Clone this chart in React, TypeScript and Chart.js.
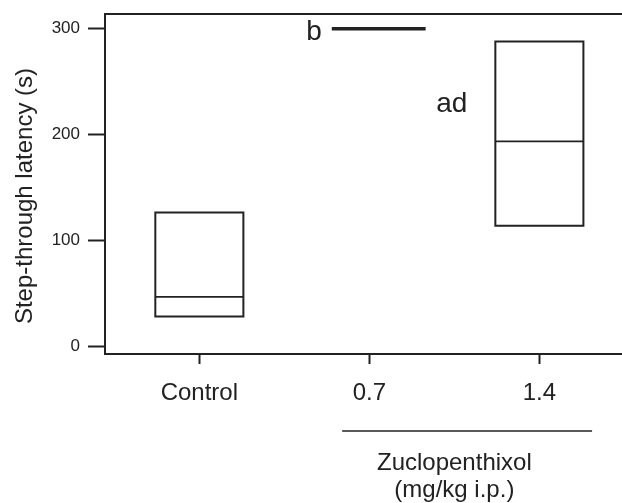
import { useEffect, useRef } from "react";
import { Chart, registerables } from "chart.js";

Chart.register(...registerables);

// ---- data ----
const categories = ["Control", "0.7", "1.4"];
const boxMin = [28.6, 300, 114];
const boxMedian = [47, 300, 193.7];
const boxMax = [126.7, 300, 288];
const yTicks = [0, 100, 200, 300];
const groupLetters = ["", "b", "ad"];
const yTitle = "Step-through latency (s)";
const bracketTitle = ["Zuclopenthixol", "(mg/kg i.p.)"];

// ---- style ----
const INK = "#222222";
const FONT = '"Liberation Sans", Arial, Helvetica, sans-serif';
const BOX_HALF = 0.259; // in category units
const FLAT_HALF = 0.276;
const FLAT_OFFSET = 0.055;
const X_MIN = -0.555;
const X_MAX = 2.486;
const Y_MIN = -6.9;
const Y_MAX = 313.9;

const annotationPlugin = {
  id: "boxAnnotations",
  afterDraw(chart: any) {
    const { ctx, chartArea } = chart;
    const xs = chart.scales.x;
    const ys = chart.scales.y;
    ctx.save();
    ctx.strokeStyle = INK;
    ctx.fillStyle = INK;

    // top frame line
    ctx.lineWidth = 2;
    ctx.beginPath();
    ctx.moveTo(chartArea.left - 1, chartArea.top);
    ctx.lineTo(chartArea.right, chartArea.top);
    ctx.stroke();

    categories.forEach((_, i) => {
      const lo = ys.getPixelForValue(boxMin[i]);
      const hi = ys.getPixelForValue(boxMax[i]);
      const md = ys.getPixelForValue(boxMedian[i]);
      if (Math.abs(boxMax[i] - boxMin[i]) < 1e-9) {
        const l = xs.getPixelForValue(i + FLAT_OFFSET - FLAT_HALF);
        const r = xs.getPixelForValue(i + FLAT_OFFSET + FLAT_HALF);
        ctx.lineWidth = 3.5;
        ctx.lineCap = "butt";
        ctx.beginPath();
        ctx.moveTo(l, hi);
        ctx.lineTo(r, hi);
        ctx.stroke();
        if (groupLetters[i]) {
          ctx.font = `28px ${FONT}`;
          ctx.textAlign = "right";
          ctx.textBaseline = "alphabetic";
          ctx.fillText(groupLetters[i], l - 10, hi + 11);
        }
        return;
      }
      const l = xs.getPixelForValue(i - BOX_HALF);
      const r = xs.getPixelForValue(i + BOX_HALF);
      ctx.lineCap = "square";
      ctx.lineWidth = 2;
      ctx.beginPath();
      ctx.moveTo(l, lo);
      ctx.lineTo(l, hi);
      ctx.moveTo(r, lo);
      ctx.lineTo(r, hi);
      ctx.moveTo(l, lo);
      ctx.lineTo(r, lo);
      ctx.moveTo(l, hi);
      ctx.lineTo(r, hi);
      ctx.stroke();
      ctx.lineCap = "butt";
      ctx.lineWidth = 1.6;
      ctx.beginPath();
      ctx.moveTo(l, md);
      ctx.lineTo(r, md);
      ctx.stroke();
      if (groupLetters[i]) {
        ctx.font = `28px ${FONT}`;
        ctx.textAlign = "right";
        ctx.textBaseline = "alphabetic";
        ctx.fillText(groupLetters[i], l - 28, ys.getPixelForValue(221));
      }
    });

    // bracket under drug doses
    const bl = xs.getPixelForValue(1 - 0.16);
    const br = xs.getPixelForValue(2 + 0.31);
    const by = chartArea.bottom + 77;
    ctx.lineWidth = 1.6;
    ctx.beginPath();
    ctx.moveTo(bl, by);
    ctx.lineTo(br, by);
    ctx.stroke();
    ctx.font = `24px ${FONT}`;
    ctx.textAlign = "center";
    ctx.textBaseline = "alphabetic";
    const cx = xs.getPixelForValue(1.5);
    ctx.fillText(bracketTitle[0], cx, chartArea.bottom + 116);
    ctx.fillText(bracketTitle[1], cx, chartArea.bottom + 143);

    // y axis title
    ctx.save();
    ctx.translate(32, 196);
    ctx.rotate(-Math.PI / 2);
    ctx.textAlign = "center";
    ctx.textBaseline = "alphabetic";
    ctx.font = `24px ${FONT}`;
    ctx.fillText(yTitle, 0, 0);
    ctx.restore();

    ctx.restore();
  },
};

export default function App() {
  const ref = useRef<HTMLCanvasElement | null>(null);
  useEffect(() => {
    if (!ref.current) return;
    const chart = new Chart(ref.current, {
      type: "scatter",
      data: {
        datasets: [
          {
            data: categories.map((_, i) => ({ x: i, y: boxMedian[i] })),
            pointRadius: 0,
            showLine: false,
          },
        ],
      },
      options: {
        responsive: false,
        animation: false,
        layout: { padding: { top: 14, left: 0, right: 0, bottom: 0 } },
        plugins: { legend: { display: false }, tooltip: { enabled: false } },
        scales: {
          x: {
            type: "linear",
            min: X_MIN,
            max: X_MAX,
            afterFit: (s: any) => {
              s.height = 149;
              s.paddingLeft = 0;
              s.paddingRight = 0;
            },
            afterBuildTicks: (s: any) => {
              s.ticks = categories.map((_, i) => ({ value: i }));
            },
            ticks: {
              callback: (v: any) => categories[Math.round(Number(v))] ?? "",
              font: { size: 24, family: FONT },
              color: INK,
              padding: 15,
              maxRotation: 0,
              autoSkip: false,
            },
            grid: {
              drawOnChartArea: false,
              drawTicks: true,
              tickLength: 10,
              tickWidth: 2,
              tickColor: INK,
            },
            border: { display: true, color: INK, width: 2 },
          },
          y: {
            type: "linear",
            min: Y_MIN,
            max: Y_MAX,
            afterFit: (s: any) => {
              s.width = 105;
              s.paddingTop = 0;
              s.paddingBottom = 0;
            },
            afterBuildTicks: (s: any) => {
              s.ticks = yTicks.map((v) => ({ value: v }));
            },
            ticks: {
              callback: (v: any) => String(v),
              font: { size: 17, family: FONT },
              color: INK,
              padding: 8,
            },
            grid: {
              drawOnChartArea: false,
              drawTicks: true,
              tickLength: 17,
              tickWidth: 2,
              tickColor: INK,
            },
            border: { display: true, color: INK, width: 2 },
          },
        },
      },
      plugins: [annotationPlugin],
    });
    return () => chart.destroy();
  }, []);
  return (
    <div style={{ position: "absolute", left: 0, top: 0, width: 622, height: 503, background: "#fff" }}>
      <canvas ref={ref} width={622} height={503} style={{ display: "block" }} />
    </div>
  );
}
